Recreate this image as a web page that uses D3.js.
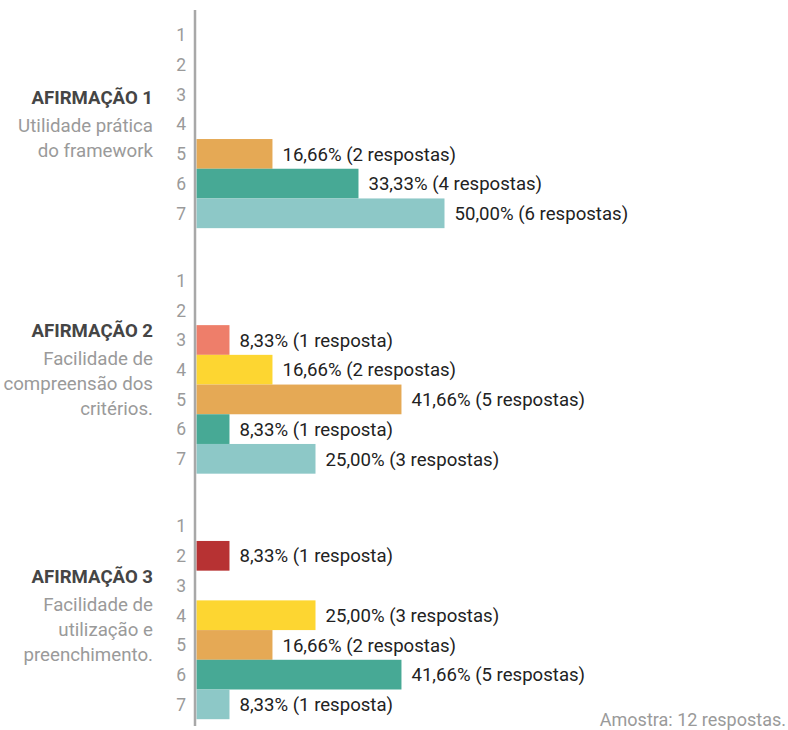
<!DOCTYPE html>
<html>
<head>
<meta charset="utf-8">
<script src="https://cdn.jsdelivr.net/npm/d3@7"></script>
<style>
  body { margin: 0; background: #fff; }
  svg text { font-family: Roboto, "Noto Sans", sans-serif; }
</style>
</head>
<body>
<svg width="788" height="730"></svg>
<script>
const svg_width = 788;
const svg_height = 730;

// statements (afirmações) and their descriptions
const groups = ["AFIRMAÇÃO 1", "AFIRMAÇÃO 2", "AFIRMAÇÃO 3"];
const subtitles = [
  ["Utilidade prática", "do framework"],
  ["Facilidade de", "compreensão dos", "critérios."],
  ["Facilidade de", "utilização e", "preenchimento."]
];
// likert scale 1..7
const scale_points = [1, 2, 3, 4, 5, 6, 7];
// number of answers per scale point, one list per statement
const responses_1 = [0, 0, 0, 0, 2, 4, 6];
const responses_2 = [0, 0, 1, 2, 5, 1, 3];
const responses_3 = [0, 1, 0, 3, 2, 5, 1];
const sample_size = 12;
const scale_colors = ["#9e9e9e", "#b73233", "#ee7e6a", "#fdd631", "#e5a955", "#47a995", "#8dc8c7"];

const all_responses = [responses_1, responses_2, responses_3];

const axis_x = 195;
const bar_x0 = 196.5;

// percentages in the original are truncated, not rounded (16,66 not 16,67)
function pctOf(n) {
  return Math.floor((n / sample_size) * 10000) / 100;
}

function labelOf(n) {
  var pct = pctOf(n).toFixed(2).replace(".", ",");
  var word = n === 1 ? "resposta" : "respostas";
  return `${pct}% (${n} ${word})`;
}

function drawChart() {
  var svg = d3.select("svg");

  var y_group = d3.scaleBand()
    .domain(groups)
    .range([20.2, 719.2])
    .paddingInner(0.153)
    .paddingOuter(0);

  var y_row = d3.scaleBand()
    .domain(scale_points)
    .range([0, y_group.bandwidth()])
    .padding(0);

  // bars were drawn by hand in the source, this fit keeps widths close
  var x = d3.scaleLinear().domain([0, 50]).range([-10, 248]);

  var group_sel = svg.selectAll(".group")
    .data(groups)
    .enter()
    .append("g")
    .attr("class", "group")
    .attr("transform", d => `translate(0, ${y_group(d)})`);

  // row numbers 1..7
  group_sel.selectAll(".row-num")
    .data(scale_points)
    .enter()
    .append("text")
    .attr("class", "row-num")
    .attr("x", 186)
    .attr("y", d => y_row(d) + y_row.bandwidth() / 2)
    .attr("dy", "0.36em")
    .attr("text-anchor", "end")
    .attr("font-size", 17.5)
    .attr("fill", "#9a9a9a")
    .text(d => d);

  // bars
  var rows = group_sel.selectAll(".bar-row")
    .data((g, i) => scale_points.map((p, j) => ({ point: p, n: all_responses[i][j] })).filter(d => d.n > 0))
    .enter()
    .append("g")
    .attr("class", "bar-row");

  rows.append("rect")
    .attr("x", bar_x0)
    .attr("y", d => y_row(d.point))
    .attr("width", d => x(pctOf(d.n)))
    .attr("height", y_row.bandwidth())
    .attr("fill", d => scale_colors[d.point - 1]);

  rows.append("text")
    .attr("x", d => bar_x0 + x(pctOf(d.n)) + 10)
    .attr("y", d => y_row(d.point) + y_row.bandwidth() / 2)
    .attr("dy", "0.36em")
    .attr("font-size", 18.6)
    .attr("fill", "#222")
    .text(d => labelOf(d.n));

  // statement titles, block centred on row 4
  group_sel.each(function (g, i) {
    var lines = [g].concat(subtitles[i]);
    var offsets = lines.map((l, k) => (k === 0 ? 0 : 28 + 25 * (k - 1)));
    var span = offsets[offsets.length - 1];
    var mid = y_row(4) + y_row.bandwidth() / 2;
    var top = mid - span / 2;

    d3.select(this).selectAll(".title-line")
      .data(lines)
      .enter()
      .append("text")
      .attr("class", "title-line")
      .attr("x", 153)
      .attr("y", (d, k) => top + offsets[k])
      .attr("dy", "0.36em")
      .attr("text-anchor", "end")
      .attr("font-size", (d, k) => (k === 0 ? 18.6 : 18.7))
      .attr("font-weight", (d, k) => (k === 0 ? 700 : 400))
      .attr("fill", (d, k) => (k === 0 ? "#454545" : "#9a9a9a"))
      .text(d => d);
  });

  // vertical axis line
  svg.append("line")
    .attr("x1", axis_x)
    .attr("x2", axis_x)
    .attr("y1", 10)
    .attr("y2", 726)
    .attr("stroke", "#a8a8a8")
    .attr("stroke-width", 2.5);

  svg.append("text")
    .attr("x", 786)
    .attr("y", 726)
    .attr("text-anchor", "end")
    .attr("font-size", 18)
    .attr("fill", "#9a9a9a")
    .text(`Amostra: ${sample_size} respostas.`);
}

drawChart();
</script>
</body>
</html>
